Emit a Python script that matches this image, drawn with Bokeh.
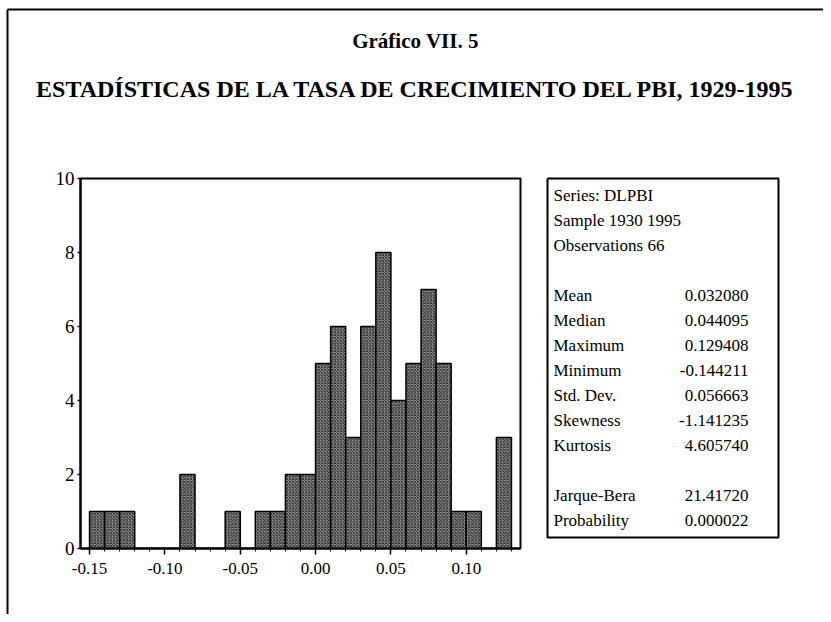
from bokeh.plotting import figure
from bokeh.models import Range1d, FixedTicker, PrintfTickFormatter
from bokeh.core.properties import value
from bokeh.embed import file_html
from bokeh.resources import INLINE

# ---- data ----
bin_left = [-0.15, -0.14, -0.13, -0.12, -0.11, -0.10, -0.09, -0.08, -0.07, -0.06,
            -0.05, -0.04, -0.03, -0.02, -0.01, 0.00, 0.01, 0.02, 0.03, 0.04,
            0.05, 0.06, 0.07, 0.08, 0.09, 0.10, 0.11, 0.12]
bin_right = [-0.14, -0.13, -0.12, -0.11, -0.10, -0.09, -0.08, -0.07, -0.06, -0.05,
             -0.04, -0.03, -0.02, -0.01, 0.00, 0.01, 0.02, 0.03, 0.04, 0.05,
             0.06, 0.07, 0.08, 0.09, 0.10, 0.11, 0.12, 0.13]
counts = [1, 1, 1, 0, 0, 0, 2, 0, 0, 1,
          0, 1, 1, 2, 2, 5, 6, 3, 6, 8,
          4, 5, 7, 5, 1, 1, 0, 3]
x_ticks = [-0.15, -0.10, -0.05, 0.00, 0.05, 0.10]
x_minor = [-0.15, -0.14, -0.13, -0.12, -0.11, -0.10, -0.09, -0.08, -0.07, -0.06,
           -0.05, -0.04, -0.03, -0.02, -0.01, 0.00, 0.01, 0.02, 0.03, 0.04,
           0.05, 0.06, 0.07, 0.08, 0.09, 0.10, 0.11, 0.12, 0.13]
y_ticks = [0, 2, 4, 6, 8, 10]

title_1 = "Gráfico VII. 5"
title_2 = "ESTADÍSTICAS DE LA TASA DE CRECIMIENTO DEL PBI, 1929-1995"
header_lines = ["Series: DLPBI", "Sample 1930 1995", "Observations 66"]
stat_names = ["Mean", "Median", "Maximum", "Minimum", "Std. Dev.", "Skewness",
              "Kurtosis", "Jarque-Bera", "Probability"]
stat_values = ["0.032080", "0.044095", "0.129408", "-0.144211", "0.056663",
               "-1.141235", "4.605740", "21.41720", "0.000022"]

SERIF = value("Liberation Serif")

# ---- figure: frame = histogram box ----
W, H = 823, 614
FL, FT, FW, FH = 80, 178, 440, 370   # frame position inside the canvas
p = figure(width=W, height=H, output_backend="svg", toolbar_location=None,
           x_range=Range1d(-0.156, 0.136), y_range=Range1d(0, 10),
           min_border_left=FL, min_border_top=FT,
           min_border_right=W - FL - FW, min_border_bottom=H - FT - FH,
           background_fill_color="white", border_fill_color="white")
p.grid.visible = False
p.outline_line_color = "black"
p.outline_line_width = 2
p.outline_line_alpha = 1

# canvas-pixel coordinate system for the surrounding page elements
p.extra_x_ranges = {"px": Range1d(FL, FL + FW)}
p.extra_y_ranges = {"px": Range1d(FT + FH, FT)}

# histogram bars
p.quad(left=bin_left, right=bin_right, top=counts, bottom=0,
       fill_color="#a4a4a4", line_color="black", line_width=1.5,
       hatch_pattern="diagonal_cross", hatch_color="#1e1e1e",
       hatch_scale=3.2, hatch_weight=0.9)

# axes
xa = p.xaxis[0]
xa.ticker = FixedTicker(ticks=x_ticks, minor_ticks=x_minor)
xa.formatter = PrintfTickFormatter(format="%.2f")
xa.major_tick_out = 6
xa.major_tick_in = 0
xa.minor_tick_out = 3
xa.minor_tick_in = 0
xa.major_label_standoff = 8
xa.axis_line_width = 2
xa.major_tick_line_width = 1.5
xa.minor_tick_line_width = 1
xa.major_label_text_font = "Liberation Serif"
xa.major_label_text_font_size = "17px"
xa.major_label_text_color = "black"

ya = p.yaxis[0]
ya.ticker = FixedTicker(ticks=y_ticks)
ya.major_tick_out = 3
ya.major_tick_in = 0
ya.minor_tick_out = 0
ya.minor_tick_in = 0
ya.major_label_standoff = 3
ya.axis_line_width = 2
ya.major_tick_line_width = 1.5
ya.major_label_text_font = "Liberation Serif"
ya.major_label_text_font_size = "19px"
ya.major_label_text_color = "black"

ov = dict(x_range_name="px", y_range_name="px", level="overlay")

# outer page border (top and left)
p.line(x=[7, 830], y=[9, 9], line_color="black", line_width=2, **ov)
p.line(x=[7, 7], y=[9, 620], line_color="black", line_width=2, **ov)

# titles
p.text(x=[415], y=[40], text=[title_1], text_font=SERIF, text_font_style="bold",
       text_font_size="21px", text_align="center", text_baseline="middle",
       text_color="black", **ov)
p.text(x=[416], y=[88], text=[title_2], text_font=SERIF, text_font_style="bold",
       text_font_size="24px", text_align="center", text_baseline="middle",
       text_color="black", **ov)

# statistics box
BX0, BX1, BY0, BY1 = 547, 778, 178, 537
p.line(x=[BX0, BX1, BX1, BX0, BX0], y=[BY0, BY0, BY1, BY1, BY0],
       line_color="black", line_width=2, **ov)

LX, VX, Y0, DY = 553, 748, 195, 25
hdr_y = [Y0 + DY * i for i in range(3)]
p.text(x=[LX] * 3, y=hdr_y, text=header_lines, text_font=SERIF,
       text_font_size="17px", text_align="left", text_baseline="middle",
       text_color="black", **ov)
rows = [4, 5, 6, 7, 8, 9, 10, 12, 13]
st_y = [Y0 + DY * r for r in rows]
p.text(x=[LX] * len(stat_names), y=st_y, text=stat_names, text_font=SERIF,
       text_font_size="17px", text_align="left", text_baseline="middle",
       text_color="black", **ov)
p.text(x=[VX] * len(stat_values), y=st_y, text=stat_values, text_font=SERIF,
       text_font_size="17px", text_align="right", text_baseline="middle",
       text_color="black", **ov)

open("out.html", "w").write(file_html(p, INLINE))
